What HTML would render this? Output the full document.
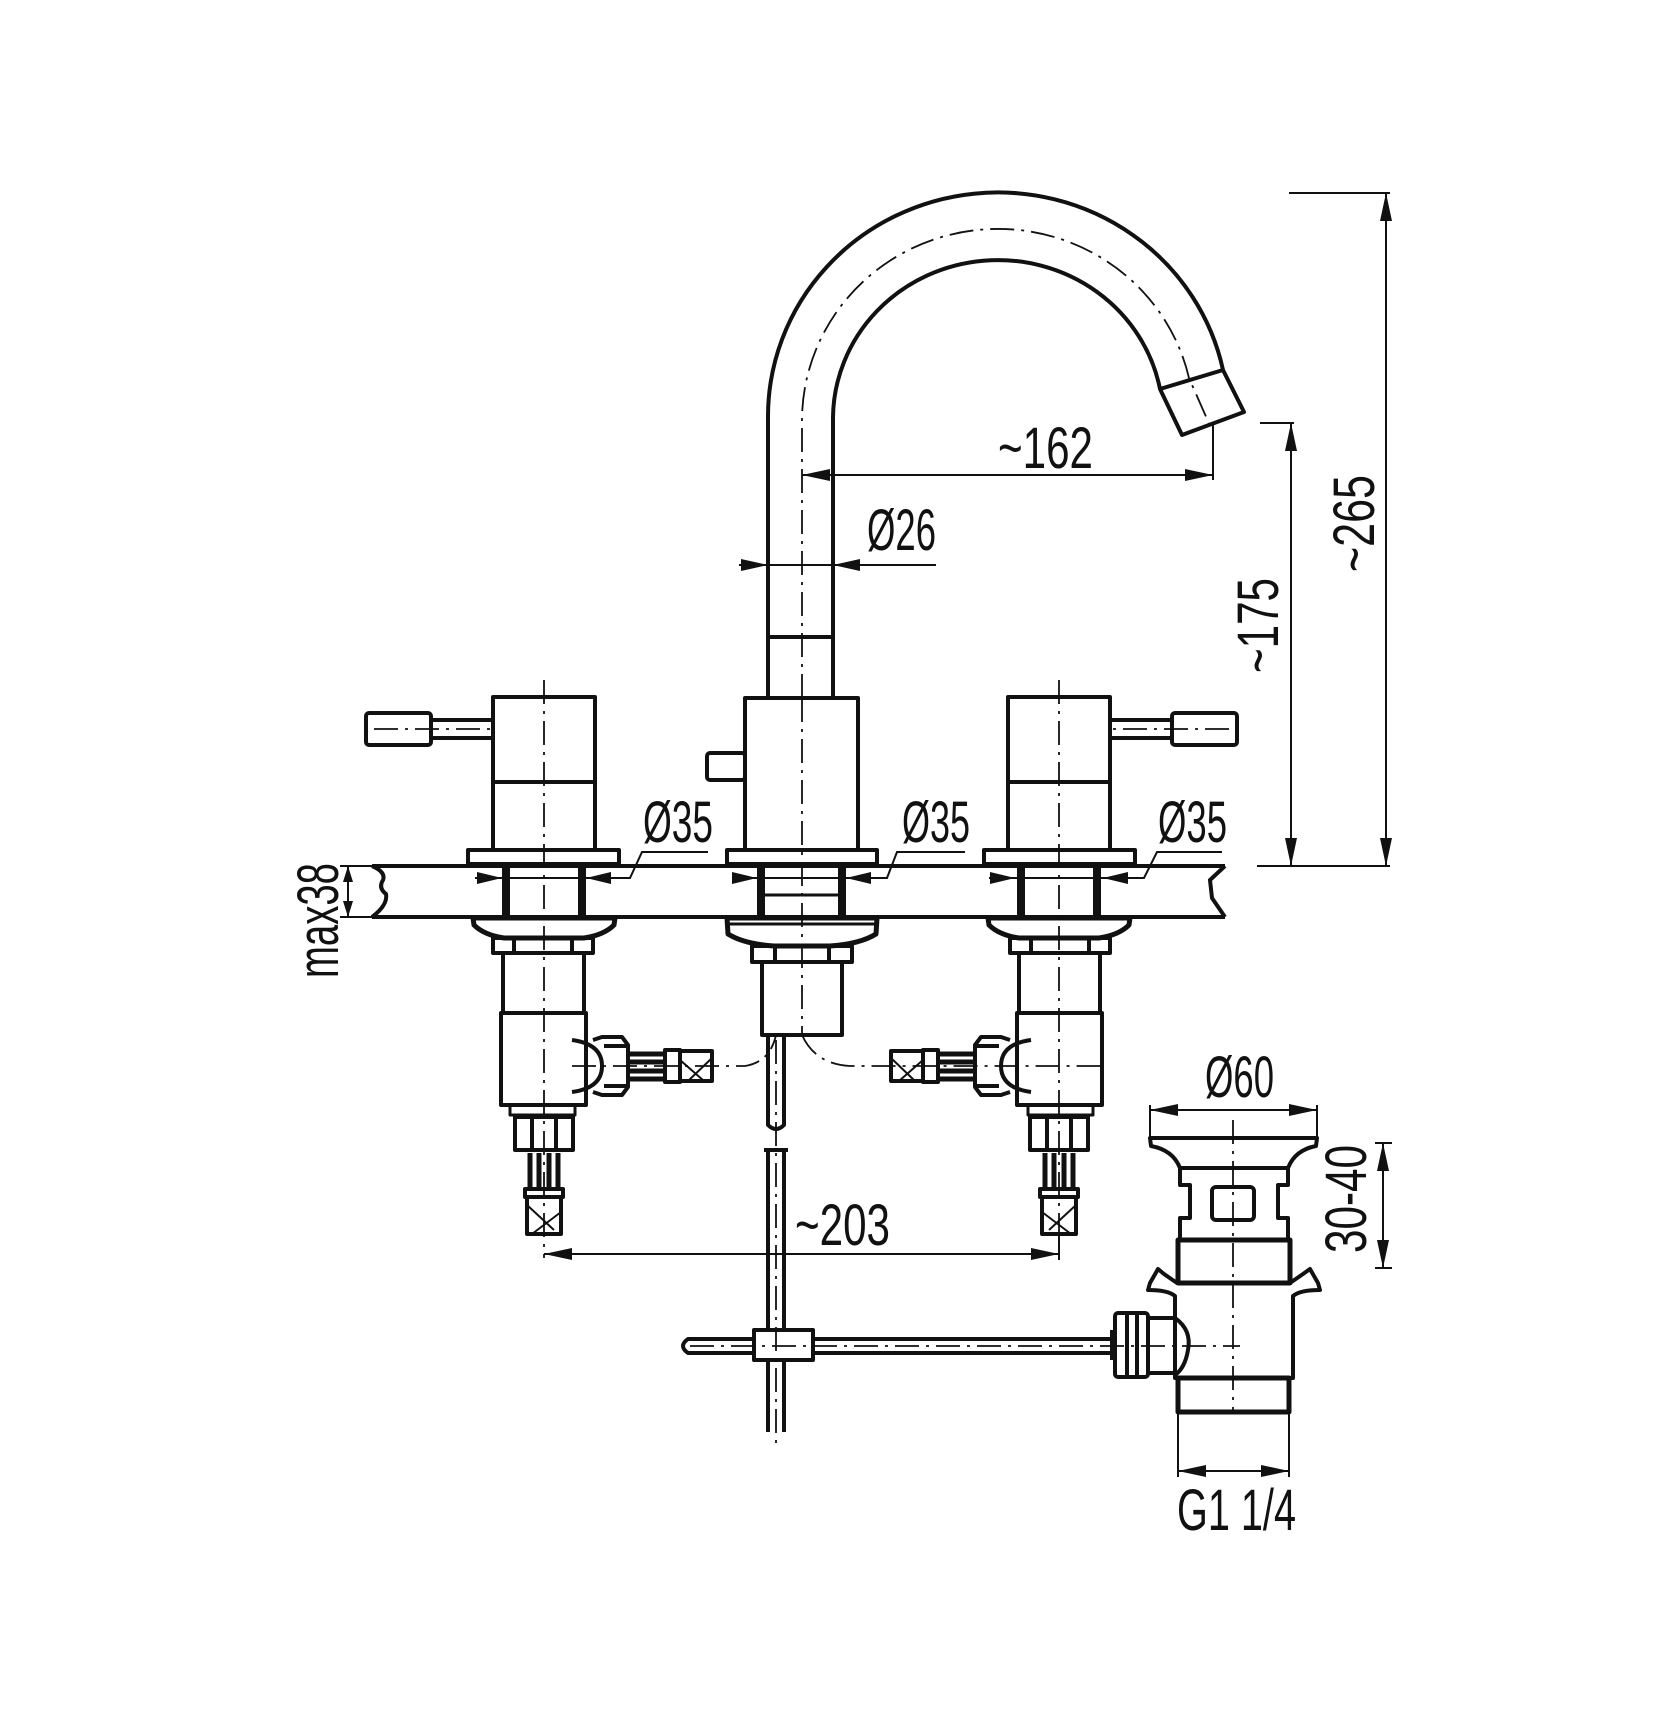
<!DOCTYPE html>
<html><head><meta charset="utf-8"><style>
html,body{margin:0;padding:0;background:#fff;}
svg{display:block;}
text{font-family:"Liberation Sans",sans-serif;font-size:58px;fill:#111;}
</style></head><body>
<svg width="1674" height="1734" viewBox="0 0 1674 1734" xmlns="http://www.w3.org/2000/svg">
<defs>
<g id="handle" fill="none" stroke="#111" stroke-width="4" stroke-linejoin="round">
  <rect x="-51" y="697" width="102" height="153"/>
  <line x1="-51" y1="782" x2="51" y2="782"/>
  <rect x="-113" y="720" width="62" height="18"/>
  <rect x="-178" y="713" width="65" height="32" rx="3"/>
  <rect x="-76" y="850" width="151" height="14"/>
  <rect x="-42" y="866" width="8" height="51" fill="#111" stroke="none"/>
  <rect x="34" y="866" width="8" height="51" fill="#111" stroke="none"/>
  <path d="M-71,918 L71,918 L70,925 Q60,935 40,938 L-40,938 Q-60,935 -70,925 Z" stroke-width="5"/>
  <rect x="-51" y="938" width="100" height="15"/>
  <line x1="-30" y1="938" x2="-30" y2="953"/><line x1="28" y1="938" x2="28" y2="953"/>
  <rect x="-41" y="953" width="81" height="60"/>
  <rect x="-43" y="1013" width="85" height="92"/>
  <rect x="-34" y="1105" width="65" height="10" stroke-width="3"/>
  <rect x="-29" y="1117" width="58" height="33"/>
  <line x1="-12" y1="1117" x2="-12" y2="1150"/><line x1="12" y1="1117" x2="12" y2="1150"/>
  <line x1="-14" y1="1153" x2="-14" y2="1188" stroke-width="5"/><line x1="-5" y1="1153" x2="-5" y2="1188" stroke-width="5"/>
  <line x1="5" y1="1153" x2="5" y2="1188" stroke-width="5"/><line x1="14" y1="1153" x2="14" y2="1188" stroke-width="5"/>
  <rect x="-19" y="1189" width="38" height="8"/>
  <rect x="-17" y="1197" width="34" height="37"/>
  <path d="M-17,1205 L10,1230 M-12,1234 L17,1212" stroke-width="2"/>
  <path d="M28,1040 Q58,1044 58,1066 Q58,1088 28,1092"/>
  <path d="M49,1040 L58,1037 L78,1037 L84,1045 L84,1087 L78,1095 L58,1095 L49,1092" stroke-width="4"/>
  <line x1="60" y1="1046" x2="82" y2="1046"/><line x1="60" y1="1086" x2="82" y2="1086"/>
  <line x1="86" y1="1054" x2="120" y2="1054" stroke-width="5"/><line x1="86" y1="1062" x2="120" y2="1062" stroke-width="5"/>
  <line x1="86" y1="1071" x2="120" y2="1071" stroke-width="5"/><line x1="86" y1="1079" x2="120" y2="1079" stroke-width="5"/>
  <rect x="121" y="1050" width="15" height="32"/>
  <rect x="136" y="1051" width="32" height="30"/>
  <path d="M136,1060 L160,1081 M144,1081 L168,1058" stroke-width="2"/>
  <g stroke-width="1.8" stroke-dasharray="24,7,3,7">
    <line x1="0" y1="680" x2="0" y2="1258"/>
    <line x1="-170" y1="729" x2="-51" y2="729"/>
  </g>
</g>
</defs>

<g fill="none" stroke="#111" stroke-width="4">
  <line x1="372" y1="866" x2="1225" y2="866"/>
  <line x1="372" y1="917" x2="1225" y2="917"/>
  <path d="M372,866 Q386,872 383,880 Q378,888 386,894 Q388,905 372,917"/>
  <path d="M1225,866 L1210,880 L1212,898 L1225,917"/>
</g>

<use href="#handle" transform="translate(544,0)"/>
<use href="#handle" transform="translate(1059,0) scale(-1,1)"/>

<g fill="none" stroke="#111" stroke-width="4" stroke-linejoin="round">
  <path d="M768,698 L768,417 A230,224 0 0 1 1223,370 L1244,412 L1182,435 L1160,389 A165,159 0 0 0 833,417 L833,698"/>
  <line x1="1160" y1="389" x2="1223" y2="370"/>
  <line x1="768" y1="637" x2="833" y2="637"/>
  <rect x="745" y="698" width="113" height="152"/>
  <rect x="707" y="753" width="38" height="27" rx="3"/>
  <rect x="727" y="850" width="150" height="14"/>
  <rect x="757" y="866" width="8" height="51" fill="#111" stroke="none"/>
  <rect x="838" y="866" width="8" height="51" fill="#111" stroke="none"/>
  <line x1="765" y1="895" x2="838" y2="895" stroke-width="3"/>
  <line x1="727" y1="924" x2="877" y2="924" stroke-width="3"/>
  <path d="M727,918 L877,918 L876,934 Q860,944 830,946 L774,946 Q744,944 728,934 Z" stroke-width="5"/>
  <rect x="752" y="946" width="100" height="16"/>
  <line x1="775" y1="946" x2="775" y2="962"/><line x1="829" y1="946" x2="829" y2="962"/>
  <rect x="762" y="962" width="80" height="73"/>
  <path d="M768,1035 L768,1125 Q776,1133 784,1125 L784,1035"/>
  <line x1="764" y1="1150" x2="788" y2="1150"/>
  <path d="M768,1150 L768,1432 M784,1150 L784,1432"/>
  <path d="M1112,1339 L688,1339 Q678,1346 688,1353 L1112,1353"/>
  <rect x="754" y="1330" width="59" height="30" fill="#fff"/>
  <path d="M1150,1138 L1317,1138 L1316,1146 Q1295,1150 1288,1168 L1180,1168 Q1173,1150 1151,1146 Z"/>
  <path d="M1180,1168 L1180,1185 L1190,1185 L1190,1218 L1180,1218 L1180,1240 M1288,1168 L1288,1185 L1278,1185 L1278,1218 L1288,1218 L1288,1240"/>
  <rect x="1212" y="1187" width="42" height="33" rx="4"/>
  <rect x="1178" y="1240" width="112" height="43" stroke-width="5"/>
  <path d="M1148,1290 L1150,1283 L1158,1269 L1164,1274 L1177,1283 L1290,1283 L1303,1274 L1310,1269 L1318,1283 L1320,1290 Q1300,1290 1293,1296 L1293,1378 L1175,1378 L1175,1296 Q1168,1290 1148,1290 Z"/>
  <rect x="1178" y="1378" width="111" height="34" stroke-width="5"/>
  <path d="M1175,1318 Q1192,1330 1188,1350 Q1185,1368 1175,1375 M1148,1318 L1175,1318 M1148,1373 L1175,1373"/>
  <rect x="1115" y="1313" width="33" height="64" rx="3"/>
  <line x1="1127" y1="1313" x2="1127" y2="1377"/><line x1="1137" y1="1313" x2="1137" y2="1377"/>
  <line x1="1112" y1="1330" x2="1112" y2="1360"/>
</g>

<g fill="none" stroke="#111" stroke-width="1.8" stroke-dasharray="24,7,3,7">
  <path d="M802,698 L802,417 A196,192 0 0 1 1189,378 L1211,428"/>
  <line x1="802" y1="698" x2="802" y2="1035"/>
  <path d="M572,1066 L745,1066 Q770,1062 776,1035"/>
  <path d="M802,1035 Q815,1064 850,1066 L1105,1066"/>
  <line x1="776" y1="1040" x2="776" y2="1445"/>
  <line x1="690" y1="1346" x2="1240" y2="1346"/>
  <line x1="1233" y1="1120" x2="1233" y2="1412"/>
</g>

<g fill="none" stroke="#111" stroke-width="2">
  <line x1="802" y1="475" x2="1213" y2="475"/>
  <line x1="1213" y1="425" x2="1213" y2="480"/>
  <line x1="739" y1="565" x2="936" y2="565"/>
  <line x1="1291" y1="423" x2="1291" y2="866"/>
  <line x1="1260" y1="423" x2="1294" y2="423"/>
  <line x1="1386" y1="193" x2="1386" y2="866"/>
  <line x1="1289" y1="193" x2="1390" y2="193"/>
  <line x1="1257" y1="866" x2="1390" y2="866"/>
  <line x1="348" y1="866" x2="348" y2="917"/>
  <line x1="340" y1="866" x2="372" y2="866"/>
  <line x1="340" y1="917" x2="372" y2="917"/>
  <path d="M475,878 L613,878 L630,878 L642,852 L708,852"/>
  <path d="M732,878 L870,878 L887,878 L897,852 L965,852"/>
  <path d="M989,878 L1128,878 L1144,878 L1157,852 L1222,852"/>
  <line x1="544" y1="1254" x2="1059" y2="1254"/>
  <line x1="1059" y1="1234" x2="1059" y2="1260"/>
  <line x1="1150" y1="1110" x2="1317" y2="1110"/>
  <line x1="1150" y1="1105" x2="1150" y2="1138"/><line x1="1317" y1="1105" x2="1317" y2="1138"/>
  <line x1="1383" y1="1143" x2="1383" y2="1268"/>
  <line x1="1375" y1="1143" x2="1392" y2="1143"/><line x1="1375" y1="1268" x2="1392" y2="1268"/>
  <line x1="1178" y1="1412" x2="1178" y2="1477"/><line x1="1289" y1="1412" x2="1289" y2="1477"/>
  <line x1="1178" y1="1471" x2="1289" y2="1471"/>
</g>

<g fill="#111">
  <polygon points="802,475 830,469 830,481"/>
  <polygon points="1213,475 1185,469 1185,481"/>
  <polygon points="768,565 741,559 741,571"/>
  <polygon points="833,565 860,559 860,571"/>
  <polygon points="1291,423 1285,451 1297,451"/>
  <polygon points="1291,866 1285,838 1297,838"/>
  <polygon points="1386,193 1380,221 1392,221"/>
  <polygon points="1386,866 1380,838 1392,838"/>
  <polygon points="348,866 343,882 353,882"/>
  <polygon points="348,917 343,901 353,901"/>
  <polygon points="502,878 477,872 477,884"/><polygon points="586,878 611,872 611,884"/>
  <polygon points="757,878 732,872 732,884"/><polygon points="846,878 871,872 871,884"/>
  <polygon points="1015,878 990,872 990,884"/><polygon points="1103,878 1128,872 1128,884"/>
  <polygon points="544,1254 572,1248 572,1260"/><polygon points="1059,1254 1031,1248 1031,1260"/>
  <polygon points="1150,1110 1178,1104 1178,1116"/><polygon points="1317,1110 1289,1104 1289,1116"/>
  <polygon points="1383,1143 1377,1171 1389,1171"/><polygon points="1383,1268 1377,1240 1389,1240"/>
  <polygon points="1178,1471 1206,1465 1206,1477"/><polygon points="1289,1471 1261,1465 1261,1477"/>
</g>

<text x="998" y="468" textLength="95" lengthAdjust="spacingAndGlyphs">~162</text>
<text x="867" y="550" textLength="69" lengthAdjust="spacingAndGlyphs">Ø26</text>
<text x="643" y="842" textLength="70" lengthAdjust="spacingAndGlyphs">Ø35</text>
<text x="902" y="842" textLength="68" lengthAdjust="spacingAndGlyphs">Ø35</text>
<text x="1158" y="842" textLength="69" lengthAdjust="spacingAndGlyphs">Ø35</text>
<text x="795" y="1245" textLength="95" lengthAdjust="spacingAndGlyphs">~203</text>
<text x="1205" y="1097" textLength="69" lengthAdjust="spacingAndGlyphs">Ø60</text>
<text x="1177" y="1530" textLength="119" lengthAdjust="spacingAndGlyphs">G1 1/4</text>
<text transform="translate(1374,572) rotate(-90)" textLength="97" lengthAdjust="spacingAndGlyphs">~265</text>
<text transform="translate(1278,673) rotate(-90)" textLength="95" lengthAdjust="spacingAndGlyphs">~175</text>
<text transform="translate(338,978) rotate(-90)" textLength="115" lengthAdjust="spacingAndGlyphs">max38</text>
<text transform="translate(1366,1253) rotate(-90)" textLength="108" lengthAdjust="spacingAndGlyphs">30-40</text>
</svg>
</body></html>
